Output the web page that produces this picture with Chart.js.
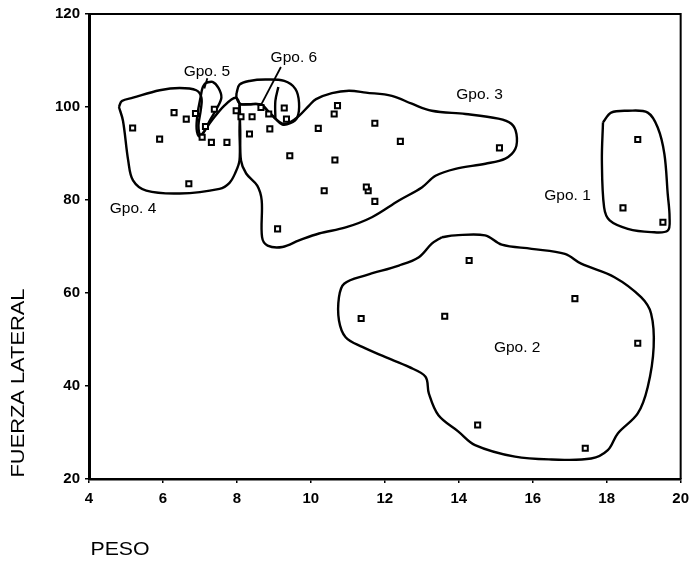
<!DOCTYPE html>
<html>
<head>
<meta charset="utf-8">
<script src="https://cdn.jsdelivr.net/npm/chart.js@4.4.1/dist/chart.umd.min.js"></script>
<style>
  html, body { margin: 0; padding: 0; background: #fff; }
  #wrap { width: 696px; height: 564px; }
</style>
</head>
<body>
<div id="wrap"><canvas id="chart" width="696" height="564"></canvas></div>
<script>
// Axis ticks
const pesoTicks = [4, 6, 8, 10, 12, 14, 16, 18, 20];
const fuerzaTicks = [20, 40, 60, 80, 100, 120];

const peso = [
  5.18, 5.91, 6.30, 6.63, 6.88, 7.39, 7.15, 7.06, 7.31, 7.73, 6.70,
  7.98, 8.11, 8.41, 8.34, 8.65, 8.86, 8.89, 9.28, 9.34, 9.43, 9.10,
  10.20, 10.63, 10.72, 10.65, 10.36, 11.73, 12.42, 11.55, 11.50, 11.73, 15.10,
  18.84, 18.44, 19.52,
  14.28, 11.36, 13.62, 17.14, 18.84, 14.51, 17.42
];
const fuerza = [
  95.5, 93.1, 98.8, 97.4, 98.6, 99.5, 95.8, 93.5, 92.4, 92.4, 83.5,
  99.2, 97.9, 97.9, 94.2, 99.9, 98.5, 95.3, 99.8, 97.4, 89.5, 73.8,
  95.4, 98.5, 100.3, 88.6, 82.0, 96.5, 92.6, 82.0, 82.8, 79.7, 91.2,
  93.0, 78.3, 75.2,
  67.0, 54.5, 55.0, 58.8, 49.2, 31.6, 26.6
];

// Hand-drawn group outlines (peso, fuerza)
const outlineGpo1 = [[17.90, 96.7], [18.12, 98.8], [18.57, 99.2], [19.11, 98.8], [19.38, 95.6], [19.56, 89.9],
  [19.65, 81.3], [19.70, 76.3], [19.65, 73.4], [19.20, 73.1], [18.57, 73.8], [18.08, 75.6], [17.93, 78.4], [17.87, 88.5]];
const outlineGpo2 = [[13.54, 72.0], [13.90, 72.4], [14.71, 72.4], [15.16, 70.4], [15.97, 69.5], [16.87, 68.4],
  [17.31, 66.3], [18.21, 63.4], [18.93, 59.1], [19.20, 55.6], [19.27, 48.4], [19.11, 39.8], [18.84, 34.1],
  [18.30, 29.8], [18.03, 26.2], [17.58, 24.4], [16.51, 24.2], [15.52, 24.8], [14.44, 27.3], [13.99, 30.2],
  [13.45, 33.7], [13.19, 38.4], [13.10, 42.0], [12.65, 44.1], [12.02, 46.2], [11.39, 48.4], [10.94, 50.5],
  [10.76, 54.1], [10.76, 59.1], [10.90, 62.0], [11.48, 63.8], [12.38, 65.9], [12.92, 67.7], [13.27, 70.6]];
const outlineGpo3 = [[8.07, 100.5], [8.09, 94.9], [8.11, 88.5], [8.25, 85.7], [8.55, 83.1], [8.67, 79.9],
  [8.68, 72.0], [8.83, 70.2], [9.23, 69.9], [9.68, 71.3], [10.22, 72.8], [10.94, 74.1], [11.65, 76.3],
  [12.38, 79.9], [13.00, 82.7], [13.37, 85.2], [13.91, 86.7], [14.72, 87.8], [15.26, 88.9], [15.53, 91.0],
  [15.56, 94.2], [15.42, 96.4], [15.07, 97.5], [14.18, 98.5], [13.27, 99.2], [12.73, 100.7], [12.19, 102.4],
  [11.49, 103.1], [11.03, 103.5], [10.57, 103.0], [10.14, 101.7], [9.95, 100.3], [9.68, 98.1], [9.41, 96.6],
  [9.23, 96.4], [9.04, 97.5], [8.88, 98.8], [8.66, 100.5], [8.34, 100.6]];
const outlineGpo4 = [[4.81, 100.0], [4.89, 101.3], [5.19, 102.0], [5.91, 103.6], [6.45, 104.1], [6.90, 103.6],
  [7.04, 102.0], [7.02, 99.2], [6.96, 96.0], [7.02, 94.0], [7.31, 97.0], [7.66, 100.3], [7.96, 102.0],
  [8.07, 100.5], [8.07, 94.9], [8.07, 88.5], [7.96, 85.9], [7.80, 83.7], [7.53, 82.4], [6.45, 81.4],
  [5.55, 82.0], [5.19, 84.2], [5.06, 88.5], [4.92, 97.0]];
const outlineGpo5 = [[7.15, 105.2], [7.34, 105.4], [7.50, 104.1], [7.58, 102.0], [7.45, 99.6], [7.26, 97.0],
  [7.10, 94.5], [6.99, 93.6], [6.91, 95.3], [6.94, 98.8], [7.02, 102.2], [7.07, 104.1]];
const outlineGpo6 = [[7.99, 103.0], [8.07, 104.8], [8.34, 105.6], [8.77, 105.9], [9.28, 105.6], [9.58, 103.9],
  [9.68, 100.9], [9.63, 97.7], [9.44, 96.5], [9.23, 96.2], [9.04, 97.5], [8.88, 98.8], [8.63, 100.5],
  [8.34, 100.6], [8.09, 100.7], [7.99, 102.0]];
const dividerGpo6 = [[9.04, 97.5], [9.04, 101.3], [9.12, 104.3]];
const pointerGpo5 = [[7.20, 106.2], [7.12, 104.0]];
const pointerGpo6 = [[9.19, 108.6], [8.61, 99.8]];

// Group names and where they sit (peso, fuerza)
const groupNames = ['Gpo. 1', 'Gpo. 2', 'Gpo. 3', 'Gpo. 4', 'Gpo. 5', 'Gpo. 6'];
const groupLabelAt = [[16.94, 80.9], [15.58, 48.3], [14.56, 102.6], [5.19, 78.2], [7.19, 107.6], [9.54, 110.6]];

const FONT = '"Liberation Sans", Arial, Helvetica, sans-serif';

const toXY = (pairs, close) => {
  const pts = pairs.map(p => ({ x: p[0], y: p[1] }));
  if (close) pts.push({ ...pts[0] });
  return pts;
};

const outline = (pairs, close = true) => ({
  data: toXY(pairs, close),
  showLine: true,
  borderColor: '#000',
  borderWidth: 2.4,
  tension: 0.35,
  pointRadius: 0,
  fill: false
});

// Frame, group names and axis titles
const decorations = {
  id: 'decorations',
  afterDatasetsDraw(chart) {
    const { ctx, chartArea: a, scales: { x, y } } = chart;
    ctx.save();
    ctx.strokeStyle = '#000';
    ctx.lineWidth = 2;
    ctx.beginPath();
    ctx.moveTo(a.left, a.top);
    ctx.lineTo(a.right, a.top);
    ctx.lineTo(a.right, a.bottom);
    ctx.stroke();

    ctx.fillStyle = '#000';
    ctx.textAlign = 'center';
    ctx.textBaseline = 'middle';
    ctx.font = '15.5px ' + FONT;
    groupNames.forEach((name, i) => {
      ctx.fillText(name, x.getPixelForValue(groupLabelAt[i][0]), y.getPixelForValue(groupLabelAt[i][1]));
    });

    // axis titles are a little stretched in the original
    ctx.font = '19px ' + FONT;
    ctx.save();
    ctx.translate(a.left + 31, a.bottom + 71);
    ctx.scale(1.12, 1);
    ctx.fillText('PESO', 0, 0);
    ctx.restore();
    ctx.translate(19, a.bottom - 96);
    ctx.rotate(-Math.PI / 2);
    ctx.scale(1.15, 1);
    ctx.fillText('FUERZA LATERAL', 0, 0);
    ctx.restore();
  }
};

new Chart(document.getElementById('chart'), {
  type: 'scatter',
  data: {
    datasets: [
      {
        data: peso.map((v, i) => ({ x: v, y: fuerza[i] })),
        pointStyle: 'rect',
        pointRadius: 3.6,
        pointBorderWidth: 2,
        pointBorderColor: '#000',
        pointBackgroundColor: '#fff'
      },
      outline(outlineGpo1),
      outline(outlineGpo2),
      outline(outlineGpo3),
      outline(outlineGpo4),
      outline(outlineGpo5),
      outline(outlineGpo6),
      outline(dividerGpo6, false),
      { ...outline(pointerGpo5, false), tension: 0, borderWidth: 1.8 },
      { ...outline(pointerGpo6, false), tension: 0, borderWidth: 1.8 }
    ]
  },
  options: {
    responsive: false,
    animation: false,
    events: [],
    layout: { padding: { top: 13, right: 13, left: 0, bottom: 0 } },
    plugins: { legend: { display: false }, tooltip: { enabled: false } },
    scales: {
      x: {
        type: 'linear',
        min: 4,
        max: 20,
        afterBuildTicks: s => { s.ticks = pesoTicks.map(v => ({ value: v })); },
        afterFit: s => { s.height = 85; },
        grid: { drawOnChartArea: false, drawTicks: true, tickLength: 4, color: '#000', lineWidth: 1.5 },
        border: { display: true, color: '#000', width: 2.5 },
        ticks: { color: '#000', font: { family: FONT, size: 15, weight: 'bold' }, padding: 7, maxRotation: 0, autoSkip: false }
      },
      y: {
        type: 'linear',
        min: 20,
        max: 120,
        afterBuildTicks: s => { s.ticks = fuerzaTicks.map(v => ({ value: v })); },
        afterFit: s => { s.width = 89; },
        grid: { drawOnChartArea: false, drawTicks: true, tickLength: 4, color: '#000', lineWidth: 1.5 },
        border: { display: true, color: '#000', width: 3 },
        ticks: { color: '#000', font: { family: FONT, size: 15, weight: 'bold' }, padding: 5, autoSkip: false }
      }
    }
  },
  plugins: [decorations]
});
</script>
</body>
</html>
